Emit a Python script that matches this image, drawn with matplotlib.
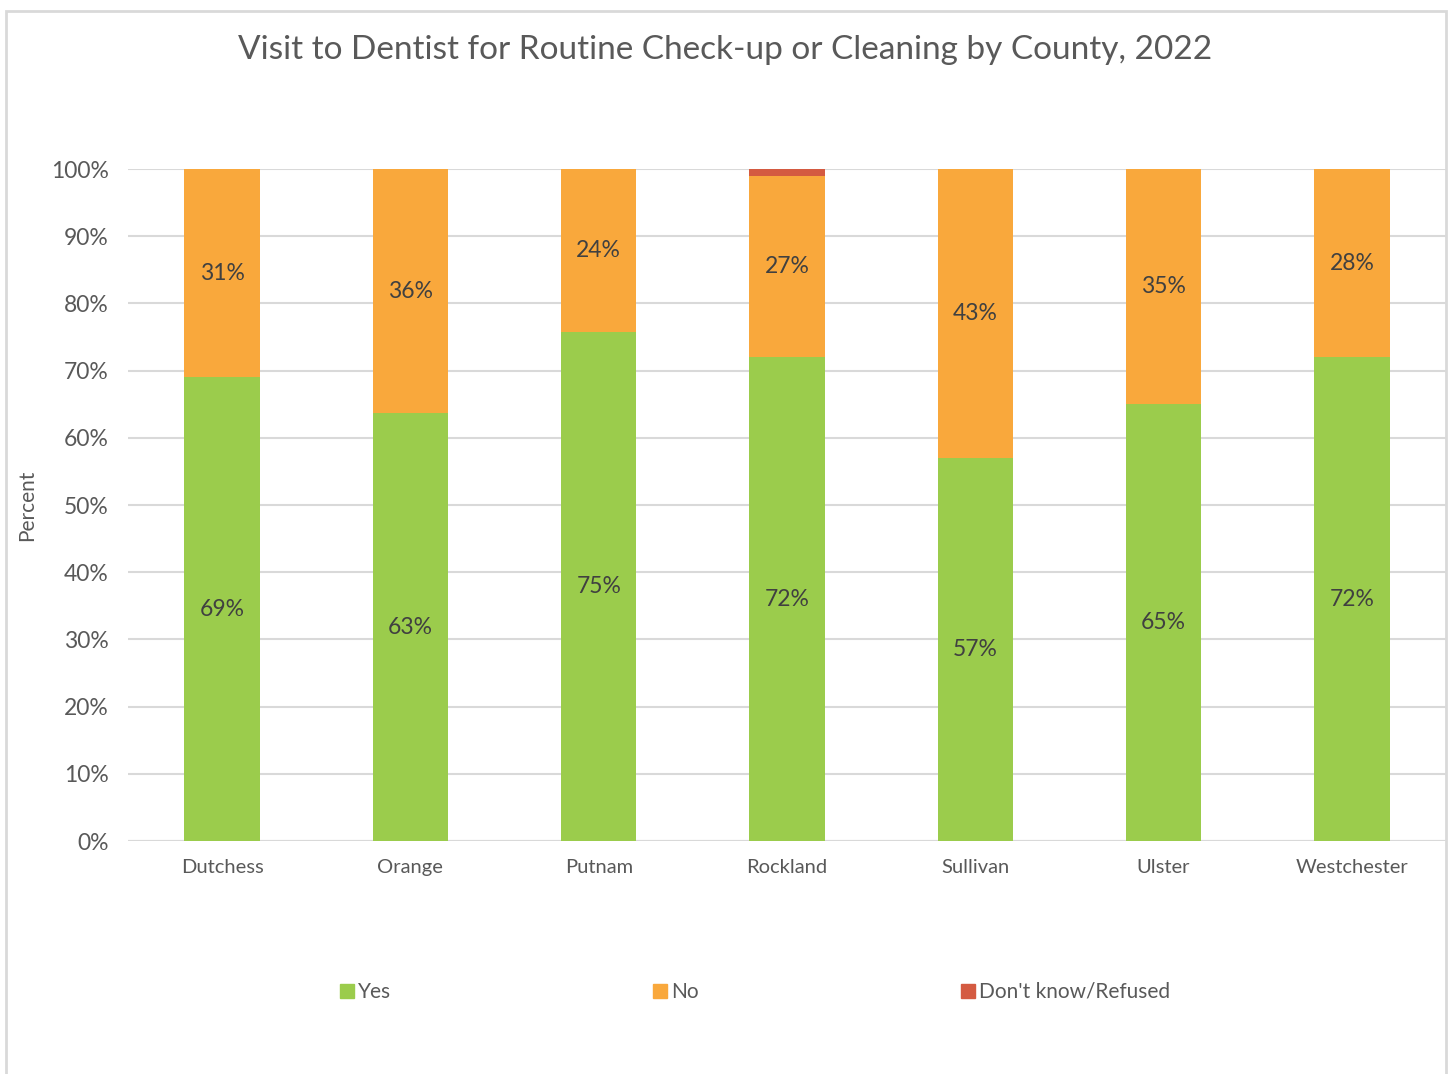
import matplotlib
matplotlib.use('Agg')
import matplotlib.pyplot as plt
from matplotlib.patches import Rectangle, Patch
import numpy as np

# counties and responses (percent values as shown in the data labels)
counties = ['Dutchess', 'Orange', 'Putnam', 'Rockland', 'Sullivan', 'Ulster', 'Westchester']
yes = [69, 63, 75, 72, 57, 65, 72]
no = [31, 36, 24, 27, 43, 35, 28]
dont_know = [0, 0, 0, 1, 0, 0, 0]
series_names = ['Yes', 'No', "Don't know/Refused"]
colors = ['#9BCC4C', '#F9A83C', '#D45A41']

plt.rcParams['font.family'] = ['Lato', 'DejaVu Sans']
text_col = '#595959'

fig = plt.figure(figsize=(14.52, 10.74), dpi=100)
ax = fig.add_axes([128/1452, (1074-841)/1074, (1446-128)/1452, (841-169)/1074])

x = np.arange(len(counties))
raw = np.array([yes, no, dont_know], dtype=float)
totals = raw.sum(axis=0)
shares = raw / totals * 100  # 100% stacked

bottom = np.zeros(len(counties))
for i in range(3):
    ax.bar(x, shares[i], 0.4, bottom=bottom, color=colors[i], zorder=3)
    if i < 2:
        for j in range(len(counties)):
            ax.text(x[j], bottom[j] + shares[i][j] / 2, f'{raw[i][j]:.0f}%',
                    ha='center', va='center', fontsize=16.5, color='#404040', zorder=4)
    bottom += shares[i]

ax.set_xlim(-0.5, len(counties) - 0.5)
ax.set_ylim(0, 100)
ax.set_yticks(range(0, 101, 10))
ax.set_yticklabels([f'{t}%' for t in range(0, 101, 10)])
ax.set_xticks(x)
ax.set_xticklabels(counties)
ax.tick_params(length=0, labelsize=15, labelcolor=text_col)
ax.tick_params(axis='y', pad=14, labelsize=16.5)
ax.tick_params(axis='x', pad=13, labelsize=14.5)
ax.grid(axis='y', color='#D9D9D9', lw=1.5, zorder=0)
for s in ax.spines.values():
    s.set_visible(False)
ax.axhline(0, color='#D9D9D9', lw=1.5, zorder=2)

fig.text(27/1452, (1074-505)/1074, 'Percent', rotation=90, ha='center', va='center',
         fontsize=15, color=text_col)
fig.text(725/1452, (1074-50)/1074, 'Visit to Dentist for Routine Check-up or Cleaning by County, 2022',
         ha='center', va='center', fontsize=24, color=text_col)

handles = [Patch(color=c, label=n) for c, n in zip(colors, series_names)]
leg = fig.legend(handles=handles, loc='center', bbox_to_anchor=(755/1452, (1074-992)/1074),
                 ncol=3, frameon=False, fontsize=15, handlelength=0.65, handleheight=0.65,
                 handletextpad=0.2, columnspacing=12.6)
for t in leg.get_texts():
    t.set_color(text_col)

fig.patches.append(Rectangle((6/1452, -0.01), 1440/1452, (1074-11)/1074 + 0.01,
                             transform=fig.transFigure, fill=False, ec='#D9D9D9', lw=2))

fig.savefig('out.png', dpi=100, facecolor='white')
